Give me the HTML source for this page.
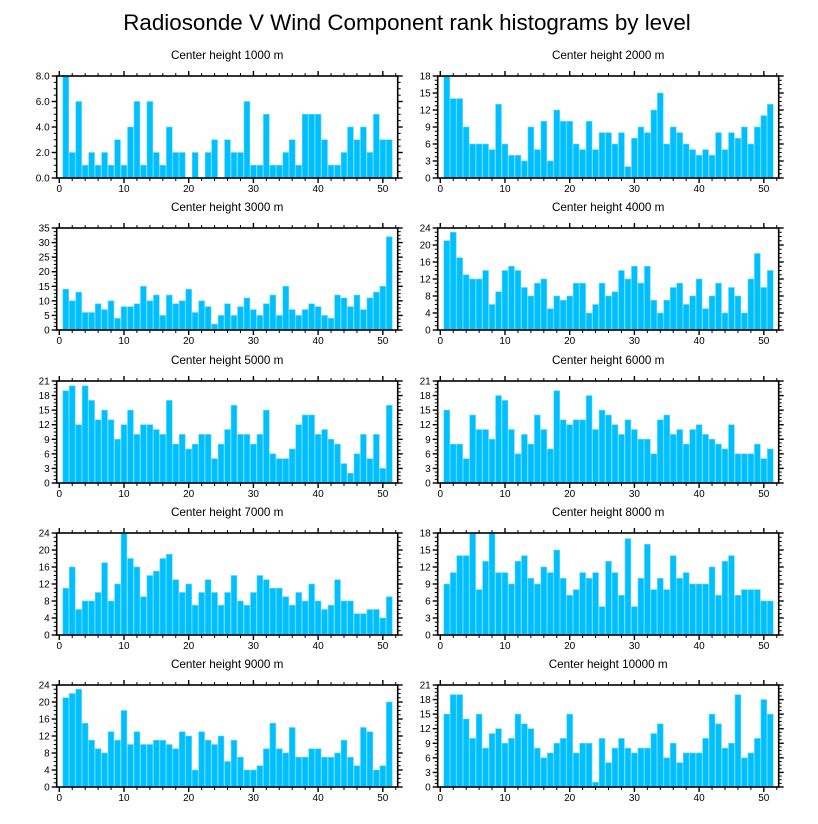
<!DOCTYPE html>
<html><head><meta charset="utf-8"><style>
html,body{margin:0;padding:0;background:#fff;}
svg{display:block;font-family:"Liberation Sans",sans-serif;}
</style></head><body>
<svg id="c" width="818" height="824">
<text x="407" y="30" text-anchor="middle" font-size="22.4">Radiosonde V Wind Component rank histograms by level</text>
</svg>
<script>
const titles = ["Center height 1000 m","Center height 2000 m","Center height 3000 m","Center height 4000 m","Center height 5000 m","Center height 6000 m","Center height 7000 m","Center height 8000 m","Center height 9000 m","Center height 10000 m"];
const v1000 = [8,2,6,1,2,1,2,1,3,1,4,6,1,6,2,1,4,2,2,0,2,0,2,3,0,3,2,2,6,1,1,5,1,1,2,3,1,5,5,5,3,1,1,2,4,3,4,2,5,3,3];
const v2000 = [18,14,14,9,6,6,6,5,13,6,4,4,3,9,5,10,3,12,10,10,6,5,10,5,8,8,6,8,2,7,9,8,12,15,6,9,8,6,5,4,5,4,8,5,8,7,9,6,9,11,13];
const v3000 = [14,10,13,6,6,9,7,10,4,8,8,9,15,10,12,5,12,9,10,14,6,10,8,2,5,9,5,8,11,7,5,9,12,5,15,7,5,7,9,8,5,4,12,11,8,12,7,11,13,15,32];
const v4000 = [21,23,17,13,12,12,14,6,9,14,15,14,10,8,11,12,5,8,7,8,11,11,4,6,11,8,9,14,12,15,11,15,7,4,7,10,11,6,8,12,5,8,11,4,10,8,4,12,18,10,14];
const v5000 = [19,20,12,20,17,13,15,13,9,12,15,10,12,12,11,10,17,8,10,7,8,10,10,5,8,11,16,10,10,8,10,15,6,5,5,7,12,14,14,10,11,9,8,4,2,6,10,5,10,3,16];
const v6000 = [15,8,8,5,14,11,11,9,18,17,11,6,10,8,14,11,7,19,13,12,13,13,18,11,15,14,12,10,13,11,9,9,6,13,14,10,11,8,11,12,10,9,8,7,12,6,6,6,8,5,7];
const v7000 = [11,16,6,8,8,10,17,8,12,24,18,16,9,14,15,18,19,13,10,12,7,10,13,10,7,10,14,8,7,10,14,13,11,11,9,7,10,8,12,8,6,7,13,8,8,5,5,6,6,4,9];
const v8000 = [9,11,14,14,18,8,13,18,11,11,9,13,14,10,9,12,11,15,10,7,8,11,10,11,5,13,11,7,17,5,10,16,8,10,8,14,10,11,9,9,9,12,7,13,14,7,8,8,8,6,6];
const v9000 = [21,22,23,15,11,9,8,13,11,18,10,13,10,10,11,11,10,9,13,12,4,13,11,10,12,6,11,7,4,4,5,9,15,9,8,14,7,7,9,9,7,7,8,11,7,5,14,13,4,5,20];
const v10000 = [15,19,19,14,10,15,8,11,12,9,10,15,13,12,8,6,7,9,10,15,7,9,9,1,10,5,8,10,8,7,8,8,11,13,6,9,5,7,7,7,10,15,13,8,9,19,6,7,10,18,15];
const yMax = [8,18,35,24,21,21,24,18,24,21];
const yStep = [2,3,5,4,3,3,4,3,4,3];
const yLabelDecimals = [1,0,0,0,0,0,0,0,0,0];
const xTicks = [0,10,20,30,40,50];
const series = [v1000,v2000,v3000,v4000,v5000,v6000,v7000,v8000,v9000,v10000];

const NS="http://www.w3.org/2000/svg";
const svg=document.getElementById('c');
function mk(tag,attrs,parent){const e=document.createElementNS(NS,tag);for(const k in attrs)e.setAttribute(k,attrs[k]);(parent||svg).appendChild(e);return e;}
const rowTop=[76,228,381,533,685], PH=102, colLeft=[56.7,437.7], PW=341;
const XMIN=-0.4, XMAX=52.3;
series.forEach((vals,p)=>{
  const col=p%2,row=Math.floor(p/2);
  const L=colLeft[col],T=rowTop[row],B=T+PH,R=L+PW;
  const g=mk('g',{});
  
  
  const xs=v=>L+(v-XMIN)/(XMAX-XMIN)*PW;
  const ys=v=>B-v/yMax[p]*PH;
  const t=mk('text',{x:(L+R)/2,y:T-17,'text-anchor':'middle','font-size':11.7},g);
  t.textContent=titles[p];
  
  
  const bw=0.9*(xs(1)-xs(0));
  vals.forEach((v,i)=>{
    if(v<=0)return;
    const r=mk('rect',{x:xs(i+1)-bw/2,y:ys(v),width:bw,height:B-ys(v),fill:'#00bfff',stroke:'#5fd7ff','stroke-width':0.6},g);
    
    
  });
  mk('rect',{x:L,y:T,width:PW,height:PH,fill:'none',stroke:'#000','stroke-width':1.6},g);
  for(let v=0;v<=52;v+=2){
    const major=v%10===0, len=major?5:3, x=xs(v);
    mk('line',{x1:x,x2:x,y1:B,y2:B+len,stroke:'#000','stroke-width':major?1.4:1},g);
    mk('line',{x1:x,x2:x,y1:T,y2:T-len,stroke:'#000','stroke-width':major?1.4:1},g);
  }
  xTicks.forEach(v=>{
    const tx=mk('text',{x:xs(v),y:B+14,'text-anchor':'middle','font-size':10},g);
    tx.textContent=v;
    
    
  });
  const minor=yStep[p]/4;
  for(let k=0;k*minor<=yMax[p]+1e-9;k++){
    const v=k*minor, major=k%4===0, len=major?5:3, y=ys(v);
    mk('line',{x1:L,x2:L-len,y1:y,y2:y,stroke:'#000','stroke-width':major?1.4:1},g);
    mk('line',{x1:R,x2:R+len,y1:y,y2:y,stroke:'#000','stroke-width':major?1.4:1},g);
    if(major){
      const ty=mk('text',{x:L-7,y:y+3.5,'text-anchor':'end','font-size':10},g);
      ty.textContent=v.toFixed(yLabelDecimals[p]);
      
      
    }
  }
});
</script>
</body></html>
